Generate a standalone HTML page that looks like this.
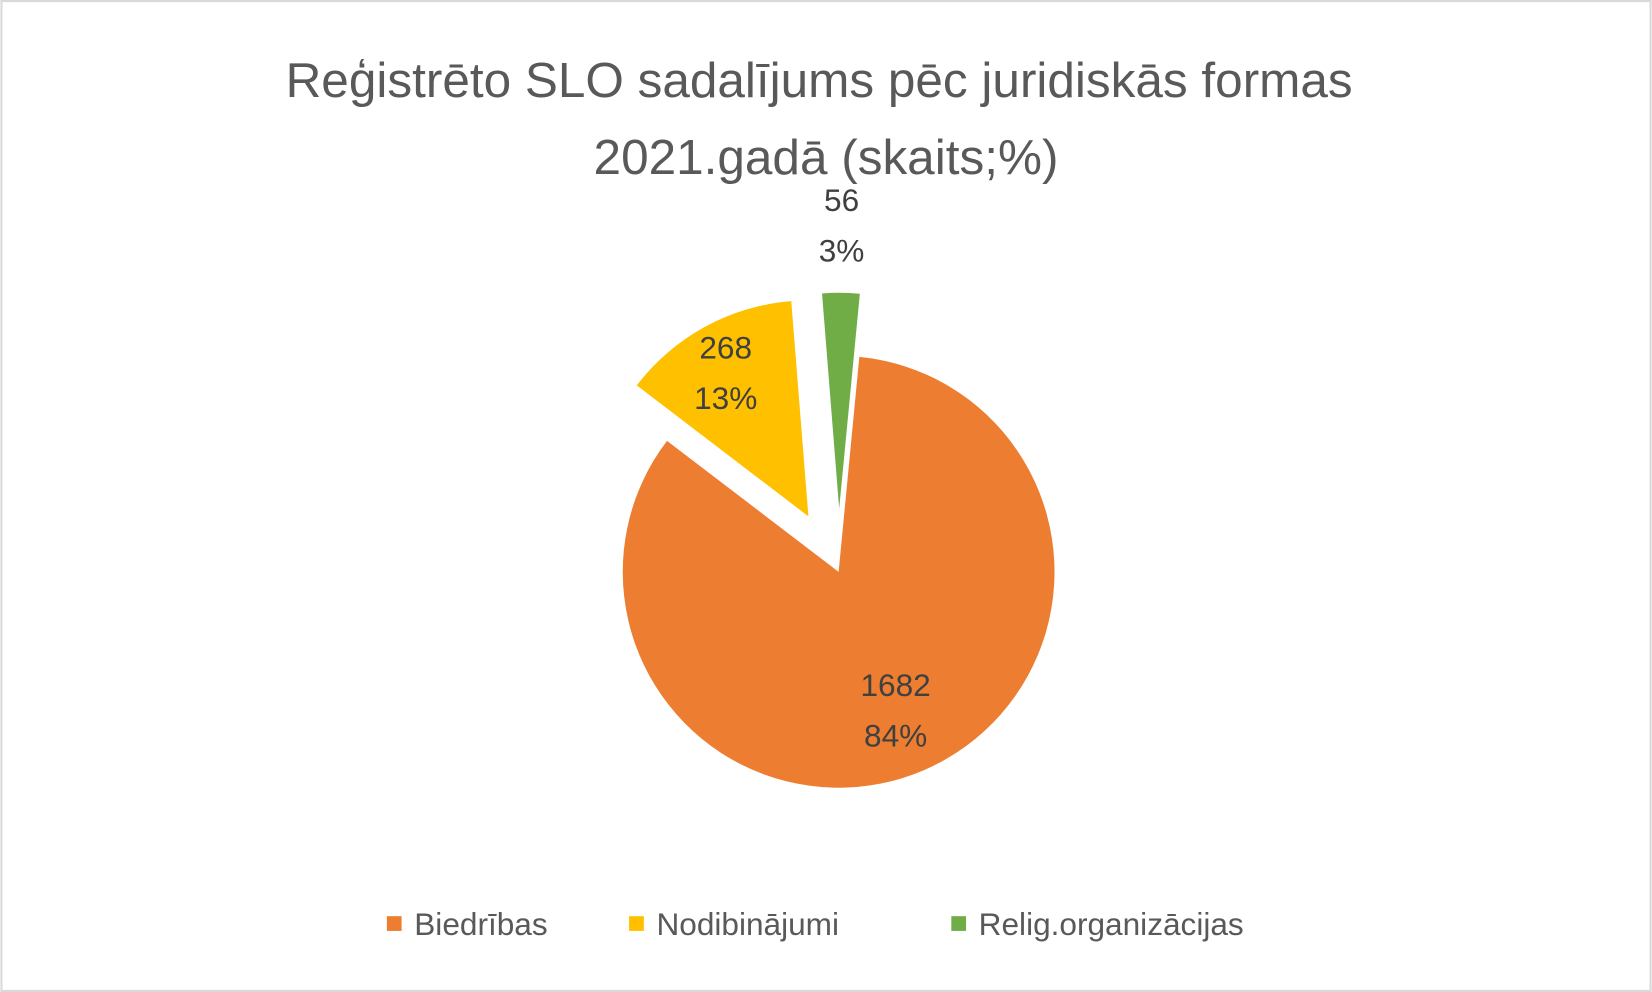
<!DOCTYPE html>
<html><head><meta charset="utf-8">
<style>
html,body{margin:0;padding:0;background:#fff;}
svg{display:block;font-family:"Liberation Sans","DejaVu Sans",sans-serif;}
</style></head>
<body>
<svg id="chart" width="1652" height="992" viewBox="0 0 1568 942" xmlns="http://www.w3.org/2000/svg">
<rect x="1" y="1" width="1566" height="940" fill="#fff" stroke="#d9d9d9" stroke-width="2"/>
<text x="784" text-anchor="middle" fill="#595959" font-size="47">
<tspan x="784" y="92">Reģistrēto SLO sadalījums pēc juridiskās formas</tspan>
<tspan x="784" y="165">2021.gadā (skaits;%)</tspan>
</text>
<g id="slices"></g>
<g id="labels"></g>
<g font-size="30" fill="#595959">
<rect x="367" y="870" width="14" height="14" fill="#ED7D31"/>
<text x="393" y="888">Biedrības</text>
<rect x="597" y="870" width="14" height="14" fill="#FFC000"/>
<text x="623" y="888">Nodibinājumi</text>
<rect x="903" y="870" width="14" height="14" fill="#70AD47"/>
<text x="929" y="888">Relig.organizācijas</text>
</g>
</svg>
<script>
const categories = ["Biedrības", "Nodibinājumi", "Relig.organizācijas"];
const values = [1682, 268, 56];
const colors = ["#ED7D31", "#FFC000", "#70AD47"];
const explode = [0, 60, 60];
const labelDist = [0.66, 0.8, 1.35];
const cx = 796, cy = 543, R = 205, startDeg = 5.5;
const NS = "http://www.w3.org/2000/svg";
const total = values.reduce((a,b)=>a+b,0);
const gS = document.getElementById("slices"), gL = document.getElementById("labels");
function pt(x,y,r,deg){const a=deg*Math.PI/180;return [x+r*Math.sin(a), y-r*Math.cos(a)];}
let acc = startDeg;
values.forEach((v,i)=>{
  const sweep = v/total*360, a0 = acc, a1 = acc+sweep, mid = (a0+a1)/2;
  acc = a1;
  const [ox,oy] = pt(cx,cy,explode[i],mid);
  const p0 = pt(ox,oy,R,a0), p1 = pt(ox,oy,R,a1);
  const path = document.createElementNS(NS,"path");
  path.setAttribute("d",`M${ox},${oy} L${p0[0]},${p0[1]} A${R},${R} 0 ${sweep>180?1:0} 1 ${p1[0]},${p1[1]} Z`);
  path.setAttribute("fill",colors[i]);
  
  
  gS.appendChild(path);
  const [lx,ly] = pt(ox,oy,R*labelDist[i],mid);
  const t = document.createElementNS(NS,"text");
  t.setAttribute("text-anchor","middle");
  t.setAttribute("font-size","30");
  t.setAttribute("fill","#404040");
  
  
  const s1 = document.createElementNS(NS,"tspan");
  s1.setAttribute("x",lx); s1.setAttribute("y",ly-6);
  s1.textContent = v;
  const s2 = document.createElementNS(NS,"tspan");
  s2.setAttribute("x",lx); s2.setAttribute("y",ly+42);
  s2.textContent = Math.round(v/total*100)+"%";
  t.appendChild(s1); t.appendChild(s2);
  gL.appendChild(t);
});
</script>
</body></html>
